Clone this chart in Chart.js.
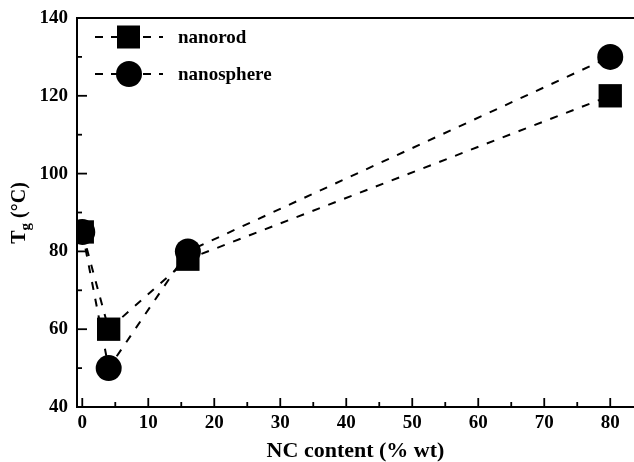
<!DOCTYPE html>
<html>
<head>
<meta charset="utf-8">
<script src="https://cdn.jsdelivr.net/npm/chart.js@4.4.0/dist/chart.umd.min.js"></script>
<style>
  html, body { margin: 0; padding: 0; background: #fff; }
  #wrap { width: 634px; height: 462px; }
</style>
</head>
<body>
<div id="wrap"><canvas id="myChart" width="634" height="462"></canvas></div>
<script>
// data
const content = [0, 4, 16, 80];
const nanorod = [85, 60, 78, 120];
const nanosphere = [85, 50, 80, 130];
const seriesNames = ["nanorod", "nanosphere"];
const xTicks = [0, 10, 20, 30, 40, 50, 60, 70, 80];
const yTicks = [40, 60, 80, 100, 120, 140];

const font = "Liberation Serif";

function pts(ys) {
  return content.map((x, i) => ({ x: x, y: ys[i] }));
}

// ticks pointing into the plot, top frame line, legend and y title
const extras = {
  id: "extras",
  afterDraw(chart) {
    const c = chart.ctx;
    const a = chart.chartArea;
    const xs = chart.scales.x;
    const ys = chart.scales.y;
    c.save();
    c.strokeStyle = "#000";
    c.lineWidth = 2;
    c.beginPath();
    c.moveTo(a.left, a.top);
    c.lineTo(a.right, a.top);
    c.stroke();
    c.lineWidth = 1.8;
    for (let v = 0; v <= 80; v += 5) {
      const px = xs.getPixelForValue(v);
      const len = v % 10 == 0 ? 9 : 5;
      c.beginPath();
      c.moveTo(px, a.bottom);
      c.lineTo(px, a.bottom - len);
      c.stroke();
    }
    for (let v = 40; v <= 140; v += 10) {
      const py = ys.getPixelForValue(v);
      const len = v % 20 == 0 ? 10 : 5;
      c.beginPath();
      c.moveTo(a.left, py);
      c.lineTo(a.left + len, py);
      c.stroke();
    }

    // legend
    c.font = "bold 19px '" + font + "'";
    c.textBaseline = "middle";
    c.textAlign = "left";
    const rows = [37, 74];
    for (let i = 0; i < 2; i++) {
      const y = rows[i];
      c.setLineDash([8, 8]);
      c.lineWidth = 2;
      c.beginPath();
      c.moveTo(95, y);
      c.lineTo(163, y);
      c.stroke();
      c.setLineDash([]);
      c.fillStyle = "#000";
      if (i == 0) {
        c.fillRect(117, y - 11.5, 23, 23);
      } else {
        c.beginPath();
        c.arc(129, y, 13, 0, Math.PI * 2);
        c.fill();
      }
      c.fillText(seriesNames[i], 178, y + 1);
    }

    // y axis title with subscript
    c.translate(25, 213);
    c.rotate(-Math.PI / 2);
    c.textAlign = "left";
    c.textBaseline = "alphabetic";
    const big = "bold 20px '" + font + "'";
    const small = "bold 15px '" + font + "'";
    c.font = big;
    const w1 = c.measureText("T").width;
    c.font = small;
    const w2 = c.measureText("g").width;
    c.font = big;
    const w3 = c.measureText(" (°C)").width;
    let x0 = -(w1 + w2 + w3) / 2;
    c.font = big;
    c.fillText("T", x0, 0);
    c.font = small;
    c.fillText("g", x0 + w1, 5);
    c.font = big;
    c.fillText(" (°C)", x0 + w1 + w2, 0);
    c.restore();
  }
};

const ctx = document.getElementById("myChart");

let obj = new Chart(ctx, {
  type: "scatter",
  data: {
    datasets: [
      {
        label: seriesNames[0],
        data: pts(nanorod),
        showLine: true,
        borderColor: "#000",
        borderWidth: 2,
        borderDash: [8, 9],
        pointStyle: "rect",
        pointRadius: 16.5,
        pointBackgroundColor: "#000",
        pointBorderWidth: 0,
      },
      {
        label: seriesNames[1],
        data: pts(nanosphere),
        showLine: true,
        borderColor: "#000",
        borderWidth: 2,
        borderDash: [8, 9],
        pointStyle: "circle",
        pointRadius: 13,
        pointBackgroundColor: "#000",
        pointBorderWidth: 0,
      },
    ],
  },
  options: {
    responsive: false,
    animation: false,
    layout: { autoPadding: false, padding: { top: 18, right: 0, left: 0, bottom: 0 } },
    plugins: {
      legend: { display: false },
      tooltip: { enabled: false },
    },
    scales: {
      x: {
        type: "linear",
        min: -0.8,
        max: 83.6,
        afterFit: (s) => {
          s.height = 55;
          s.paddingRight = 0;
          s.paddingLeft = 0;
        },
        afterBuildTicks: (s) => { s.ticks = xTicks.map((v) => ({ value: v })); },
        border: { display: true, color: "#000", width: 2 },
        grid: { display: false, drawTicks: false, tickLength: 0 },
        ticks: {
          color: "#000",
          padding: 5,
          font: { family: font, size: 19, weight: "bold" },
        },
        title: {
          display: true,
          text: "NC content (% wt)",
          color: "#000",
          padding: { top: 0, bottom: -3 },
          font: { family: font, size: 22, weight: "bold" },
        },
      },
      y: {
        min: 40,
        max: 140,
        afterFit: (s) => {
          s.width = 77;
          s.paddingTop = 0;
          s.paddingBottom = 0;
        },
        afterBuildTicks: (s) => { s.ticks = yTicks.map((v) => ({ value: v })); },
        border: { display: true, color: "#000", width: 2 },
        grid: { display: false, drawTicks: false, tickLength: 0 },
        ticks: {
          color: "#000",
          padding: 9,
          font: { family: font, size: 19, weight: "bold" },
        },
      },
    },
  },
  plugins: [extras],
});
</script>
</body>
</html>
